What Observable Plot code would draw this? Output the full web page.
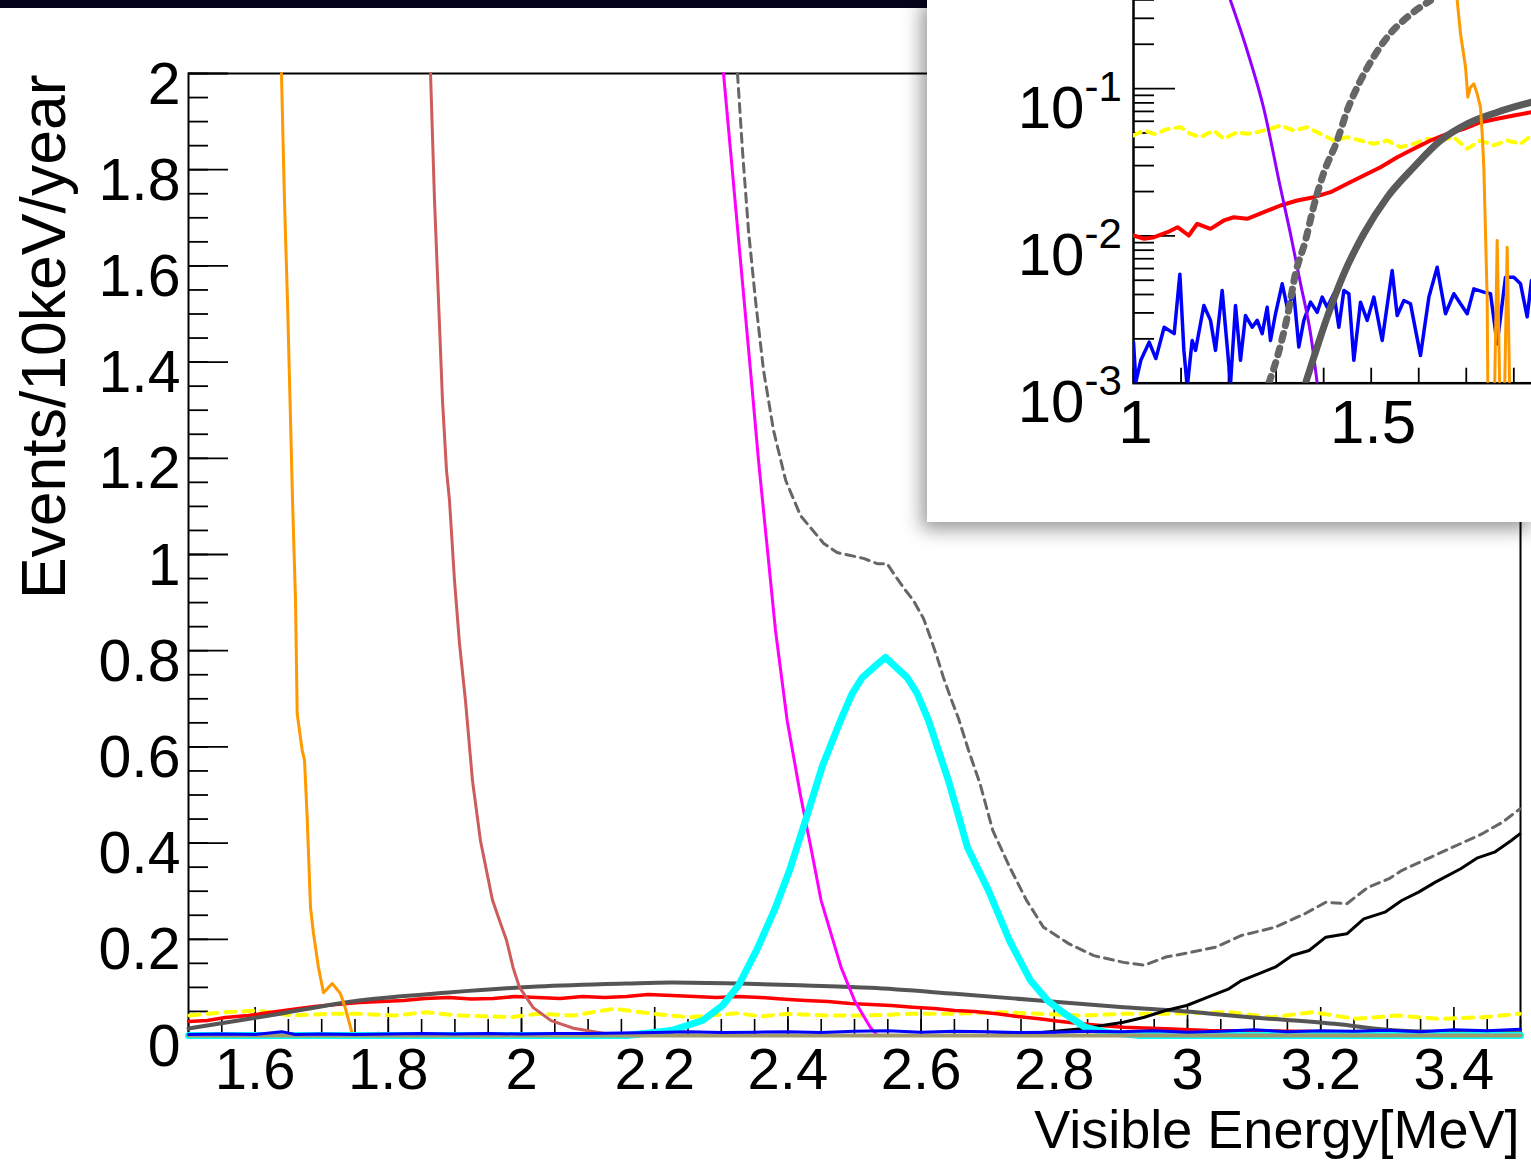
<!DOCTYPE html>
<html><head><meta charset="utf-8">
<script src="https://cdn.jsdelivr.net/npm/d3@7"></script>
<script src="https://cdn.jsdelivr.net/npm/@observablehq/plot@0.6"></script>
<style>
html,body{margin:0;padding:0;background:#fff;}
#wrap{position:relative;width:1531px;height:1175px;overflow:hidden;background:#fff;}
#main{position:absolute;left:0;top:0;}
#bar{position:absolute;left:0;top:0;width:1531px;height:8px;background:#04041c;}
#inset{position:absolute;left:927px;top:0;width:604px;height:522px;background:#fff;overflow:hidden;box-shadow:-3px 5px 18px 2px rgba(0,0,0,0.42);}
#insetPlot{position:absolute;left:0;top:-120px;}
</style></head>
<body><div id="wrap"><div id="main"></div><div id="bar"></div><div id="inset"><div id="insetPlot"></div></div></div>
<script>
// ---------------- main plot data (x in MeV, y in Events/10keV/year) ----------------
const xTickVals = [1.6, 1.8, 2.0, 2.2, 2.4, 2.6, 2.8, 3.0, 3.2, 3.4];
const xTickLabels = ["1.6", "1.8", "2", "2.2", "2.4", "2.6", "2.8", "3", "3.2", "3.4"];
const yTickVals = [0, 0.2, 0.4, 0.6, 0.8, 1.0, 1.2, 1.4, 1.6, 1.8, 2.0];
const yTickLabels = ["0", "0.2", "0.4", "0.6", "0.8", "1", "1.2", "1.4", "1.6", "1.8", "2"];

const orangeX = [1.6396, 1.6441, 1.6486, 1.6532, 1.6562, 1.6607, 1.6632, 1.6707, 1.6742, 1.6782, 1.6832, 1.6877, 1.6952, 1.7027, 1.7158, 1.7282, 1.7357, 1.7458, 1.755, 1.765, 1.775, 1.785, 1.795, 1.805, 1.815];
const orangeY = [2.0, 1.736, 1.528, 1.279, 1.112, 0.904, 0.669, 0.593, 0.572, 0.453, 0.266, 0.212, 0.141, 0.089, 0.108, 0.087, 0.056, 0.004, 0, 0.004, 0, 0.005, 0, 0.004, 0];

const indianX = [1.8634, 1.8694, 1.8754, 1.8814, 1.8874, 1.8919, 1.8994, 1.9069, 1.9159, 1.9264, 1.9384, 1.9565, 1.967, 1.9775, 1.9874, 1.997, 2.0176, 2.0443, 2.0781, 2.1246, 2.19];
const indianY = [2.0, 1.736, 1.528, 1.32, 1.175, 1.112, 0.946, 0.815, 0.696, 0.53, 0.405, 0.281, 0.239, 0.198, 0.141, 0.1, 0.058, 0.031, 0.015, 0.004, 0];

const magentaX = [2.3033, 2.3138, 2.3288, 2.3438, 2.3559, 2.3679, 2.3814, 2.3989, 2.4189, 2.4339, 2.4498, 2.48, 2.5, 2.5236, 2.5345];
const magentaY = [2.0, 1.84, 1.611, 1.383, 1.195, 1.029, 0.842, 0.655, 0.499, 0.395, 0.281, 0.141, 0.073, 0.017, 0];

const totalX = [2.3243, 2.3318, 2.3408, 2.3514, 2.3634, 2.3784, 2.3967, 2.4189, 2.4538, 2.474, 2.494, 2.5135, 2.534, 2.549, 2.5586, 2.5736, 2.5886, 2.6036, 2.6141, 2.6242, 2.6336, 2.6441, 2.6562, 2.6712, 2.6886, 2.7077, 2.733, 2.7583, 2.7837, 2.8216, 2.8595, 2.9039, 2.9354, 2.9671, 3.0051, 3.0431, 3.0811, 3.1317, 3.176, 3.2077, 3.2393, 3.271, 3.3027, 3.3216, 3.3659, 3.4102, 3.4419, 3.4736, 3.499];
const totalY = [2.0, 1.84, 1.674, 1.528, 1.383, 1.258, 1.154, 1.081, 1.023, 1.004, 0.998, 0.992, 0.981, 0.981, 0.961, 0.931, 0.904, 0.867, 0.827, 0.786, 0.744, 0.703, 0.659, 0.593, 0.523, 0.426, 0.35, 0.281, 0.225, 0.191, 0.166, 0.152, 0.146, 0.163, 0.173, 0.184, 0.208, 0.225, 0.253, 0.277, 0.274, 0.308, 0.326, 0.343, 0.371, 0.399, 0.419, 0.444, 0.471];

const signalX = [1.5, 2.1577, 2.2252, 2.2718, 2.3018, 2.3258, 2.3529, 2.3796, 2.4024, 2.4264, 2.452, 2.479, 2.4965, 2.5116, 2.5285, 2.5465, 2.5791, 2.5941, 2.6111, 2.6411, 2.6697, 2.7012, 2.7327, 2.7643, 2.7898, 2.8153, 2.8468, 2.8784, 2.93, 3.5];
const signalY = [0, 0, 0.0104, 0.0312, 0.0624, 0.104, 0.177, 0.26, 0.343, 0.447, 0.561, 0.655, 0.711, 0.744, 0.765, 0.786, 0.744, 0.711, 0.655, 0.53, 0.391, 0.3015, 0.1975, 0.1143, 0.0728, 0.0457, 0.0166, 0.0062, 0, 0];

const humpX = [1.5, 1.6216, 1.7562, 1.8904, 2.024, 2.1577, 2.2252, 2.3258, 2.4264, 2.524, 2.6506, 2.7772, 2.9039, 2.9988, 3.0937, 3.2204, 3.3153, 3.4102, 3.5];
const humpY = [0.0146, 0.0416, 0.0728, 0.0894, 0.1019, 0.1081, 0.1102, 0.1081, 0.104, 0.0992, 0.0867, 0.0728, 0.0588, 0.0499, 0.038, 0.0243, 0.0104, 0.0069, 0.0056];

const redX = [1.5, 1.528, 1.555, 1.59, 1.6216, 1.655, 1.6892, 1.722, 1.7562, 1.79, 1.8228, 1.855, 1.8904, 1.925, 1.9572, 1.99, 2.024, 2.058, 2.0916, 2.125, 2.1577, 2.19, 2.2252, 2.26, 2.2923, 2.325, 2.3589, 2.39, 2.4264, 2.46, 2.4934, 2.524, 2.555, 2.5874, 2.62, 2.6506, 2.68, 2.714, 2.745, 2.7772, 2.81, 2.8406, 2.87, 2.9039, 2.9671, 3.0305, 3.157, 3.32, 3.5];
const redY = [0.0291, 0.0312, 0.0374, 0.0416, 0.0478, 0.0541, 0.0603, 0.0644, 0.0686, 0.0707, 0.0728, 0.0769, 0.079, 0.0757, 0.0769, 0.0811, 0.079, 0.0769, 0.0811, 0.079, 0.0811, 0.0853, 0.0832, 0.0811, 0.079, 0.0811, 0.079, 0.0757, 0.0728, 0.0707, 0.0665, 0.0644, 0.0624, 0.0588, 0.0561, 0.052, 0.0499, 0.0451, 0.0395, 0.0347, 0.0291, 0.0243, 0.0208, 0.0173, 0.0139, 0.0104, 0.0089, 0.006, 0.006];

const yellowX = [1.5015, 1.555, 1.602, 1.6556, 1.7092, 1.7562, 1.8098, 1.8566, 1.9036, 1.9572, 1.9841, 2.0242, 2.0779, 2.1381, 2.1985, 2.2521, 2.3258, 2.3595, 2.3995, 2.4599, 2.5135, 2.5874, 2.6506, 2.714, 2.7772, 2.8406, 2.9039, 2.9671, 3.0622, 3.1254, 3.1887, 3.252, 3.3153, 3.3787, 3.4419, 3.499];
const yellowY = [0.0416, 0.0485, 0.052, 0.0416, 0.0451, 0.0451, 0.0416, 0.0485, 0.0416, 0.0395, 0.038, 0.0451, 0.0416, 0.0555, 0.0451, 0.038, 0.0464, 0.0395, 0.0451, 0.0416, 0.0416, 0.0451, 0.0451, 0.0485, 0.0451, 0.0416, 0.0451, 0.0451, 0.0485, 0.038, 0.0485, 0.0346, 0.0416, 0.0346, 0.038, 0.0451];

const blueX = [1.5, 1.55, 1.6, 1.64, 1.66, 1.7, 1.75, 1.8, 1.85, 1.9, 1.95, 2.0, 2.05, 2.1, 2.15, 2.2, 2.25, 2.3, 2.35, 2.4, 2.45, 2.5, 2.55, 2.6, 2.65, 2.7, 2.75, 2.8, 2.85, 2.9, 2.95, 3.0, 3.05, 3.1, 3.15, 3.2, 3.25, 3.3, 3.35, 3.4, 3.45, 3.5];
const blueY = [0.002, 0.003, 0.002, 0.008, 0.002, 0.003, 0.002, 0.003, 0.004, 0.003, 0.004, 0.003, 0.004, 0.004, 0.005, 0.006, 0.008, 0.006, 0.007, 0.008, 0.006, 0.009, 0.01, 0.007, 0.009, 0.008, 0.006, 0.007, 0.009, 0.008, 0.01, 0.007, 0.009, 0.012, 0.008, 0.01, 0.009, 0.011, 0.008, 0.012, 0.01, 0.013];

const blackX = [2.70, 2.7772, 2.8406, 2.8722, 2.9039, 2.9354, 2.9671, 2.9988, 3.0305, 3.0622, 3.0811, 3.1065, 3.1317, 3.157, 3.1825, 3.2077, 3.2393, 3.2647, 3.2964, 3.3216, 3.347, 3.3723, 3.4102, 3.4356, 3.461, 3.4862, 3.499];
const blackY = [0, 0.0056, 0.0139, 0.0208, 0.0277, 0.038, 0.052, 0.0624, 0.0797, 0.0971, 0.1143, 0.1283, 0.1421, 0.1663, 0.1767, 0.2044, 0.2114, 0.2426, 0.2564, 0.2807, 0.298, 0.3188, 0.3466, 0.3694, 0.3811, 0.4054, 0.4193];

const khakiX = [1.5, 3.5];
const khakiY = [0, 0];

// ---------------- inset data (log scale) ----------------
const insetYTickVals = [0.001, 0.01, 0.1];
const insetYTickBase = ["10", "10", "10"];
const insetYTickExp = ["-3", "-2", "-1"];
const insetXTickVals = [1, 1.5];
const insetXTickLabels = ["1", "1.5"];

const purpleX = [1.204, 1.239, 1.2735, 1.309, 1.330, 1.3513, 1.3723, 1.3864];
const purpleY = [0.396, 0.1815, 0.0744, 0.0213, 0.0104, 0.00475, 0.00218, 0.001];

const dotGrayX = [1.2846, 1.3023, 1.3233, 1.3408, 1.3618, 1.3786, 1.3997, 1.4285, 1.4495, 1.4775, 1.5048, 1.5337, 1.5757, 1.6247];
const dotGrayY = [0.001, 0.0015, 0.00281, 0.00556, 0.00931, 0.01566, 0.02652, 0.04443, 0.07099, 0.1135, 0.1633, 0.2234, 0.3052, 0.3964];

const solGrayX = [1.3618, 1.3793, 1.4074, 1.4424, 1.4844, 1.5337, 1.5896, 1.6458, 1.7019, 1.765, 1.8372];
const solGrayY = [0.001, 0.0015, 0.00281, 0.00553, 0.01033, 0.01831, 0.02928, 0.04443, 0.05768, 0.06914, 0.08082];

const iRedX = [1.0, 1.0225, 1.0435, 1.0715, 1.0926, 1.1163, 1.134, 1.162, 1.19, 1.211, 1.2392, 1.2741, 1.3092, 1.3443, 1.3793, 1.4144, 1.4495, 1.4844, 1.5196, 1.5547, 1.5896, 1.6247, 1.6599, 1.6948, 1.7299, 1.765, 1.8, 1.8372];
const iRedY = [0.01006, 0.00956, 0.0098, 0.01059, 0.01146, 0.01006, 0.01209, 0.01117, 0.01273, 0.01339, 0.01306, 0.01448, 0.01608, 0.01739, 0.01831, 0.0198, 0.02258, 0.0257, 0.02928, 0.03423, 0.03903, 0.04443, 0.04934, 0.05334, 0.05912, 0.06237, 0.06567, 0.06914];

const iYellowX = [1.0, 1.022, 1.045, 1.07, 1.0989, 1.1199, 1.1409, 1.169, 1.19, 1.2181, 1.2392, 1.2602, 1.2882, 1.3092, 1.3372, 1.3654, 1.3934, 1.4213, 1.4495, 1.4775, 1.5055, 1.5337, 1.5616, 1.5896, 1.6178, 1.6458, 1.6737, 1.7019, 1.7299, 1.7579, 1.7861, 1.814, 1.8372];
const iYellowY = [0.048, 0.052, 0.049, 0.053, 0.0547, 0.0493, 0.0468, 0.0519, 0.0456, 0.0506, 0.0493, 0.0506, 0.0533, 0.0562, 0.0519, 0.0547, 0.0493, 0.0444, 0.0468, 0.0444, 0.0422, 0.0444, 0.040, 0.0422, 0.0456, 0.0444, 0.0468, 0.039, 0.0444, 0.0411, 0.0444, 0.0422, 0.048];

const iBlueX = [1.0, 1.005, 1.0154, 1.033, 1.047, 1.0645, 1.0856, 1.0975, 1.106, 1.113, 1.1234, 1.1305, 1.148, 1.162, 1.1725, 1.1865, 1.2041, 1.2146, 1.2251, 1.2356, 1.2497, 1.2602, 1.2707, 1.2812, 1.2882, 1.2987, 1.3128, 1.3233, 1.3373, 1.3478, 1.3583, 1.3724, 1.3864, 1.3969, 1.4074, 1.4214, 1.432, 1.4425, 1.453, 1.4635, 1.4775, 1.4916, 1.5056, 1.5231, 1.5441, 1.5547, 1.5687, 1.5827, 1.6037, 1.6213, 1.6388, 1.6563, 1.6739, 1.7019, 1.7159, 1.737, 1.751, 1.765, 1.7825, 1.8001, 1.8141, 1.8281, 1.8372];
const iBlueY = [0.0019, 0.00102, 0.00143, 0.0019, 0.00147, 0.0024, 0.00217, 0.0055, 0.00167, 0.00094, 0.00195, 0.00167, 0.00337, 0.00267, 0.00167, 0.00426, 0.00099, 0.00337, 0.00143, 0.00288, 0.0024, 0.00267, 0.00217, 0.00328, 0.00195, 0.00296, 0.00473, 0.00328, 0.00405, 0.00176, 0.00267, 0.00355, 0.00303, 0.00384, 0.00328, 0.00405, 0.0024, 0.00426, 0.00405, 0.00143, 0.00355, 0.00267, 0.00384, 0.00195, 0.00582, 0.00288, 0.00364, 0.00346, 0.00154, 0.00384, 0.00613, 0.00296, 0.00405, 0.00296, 0.00437, 0.00415, 0.00405, 0.00185, 0.00524, 0.00524, 0.00473, 0.00282, 0.00498];

const iOrangeX = [1.6809, 1.6879, 1.6984, 1.7033, 1.7089, 1.7159, 1.7229, 1.7299, 1.7335, 1.7369, 1.7405, 1.744, 1.7475, 1.7545, 1.765, 1.7755, 1.786, 1.7966, 1.81];
const iOrangeY = [0.396, 0.2355, 0.1397, 0.0874, 0.1022, 0.1078, 0.0922, 0.0748, 0.0493, 0.0293, 0.01033, 0.00364, 0.0001, 0.0001, 0.0093, 0.0001, 0.00838, 0.0001, 0.0001];

// ---------------- helpers & styles ----------------
const FONT = "'Liberation Sans', Arial, Helvetica, sans-serif";
const pts = (xs, ys) => xs.map((x, i) => ({x, y: ys[i]}));
function line(xs, ys, stroke, strokeWidth, extra = {}) {
  return Plot.line(pts(xs, ys), {x: "x", y: "y", stroke, strokeWidth, strokeLinejoin: "round", ...extra});
}

// main geometry
const W = 1531, H = 1175, mL = 188, mR = 11, mT = 73, mB = 140;
const pxPerY = (H - mT - mB) / 2;   // px per y unit
const pxPerX = (W - mL - mR) / 2;   // px per x unit
const xMinor = d3.range(1.5, 3.5001, 0.05);
const yMinor = d3.range(0, 2.0001, 0.05);

const mainPlot = Plot.plot({
  width: W, height: H,
  marginLeft: mL, marginRight: mR, marginTop: mT, marginBottom: mB,
  x: {domain: [1.5, 3.5], axis: null},
  y: {domain: [0, 2], axis: null},
  style: {fontFamily: FONT, background: "transparent", maxWidth: "none", color: "#000"},
  marks: [
    Plot.frame({stroke: "#000", strokeWidth: 2}),
    // x ticks (inside, upward)
    Plot.ruleX(xMinor, {x: d => d, y1: 0, y2: 16 / pxPerY, stroke: "#000", strokeWidth: 1.6}),
    Plot.ruleX(xTickVals, {x: d => d, y1: 0, y2: 28 / pxPerY, stroke: "#000", strokeWidth: 1.6}),
    // y ticks (inside, rightward)
    Plot.ruleY(yMinor, {y: d => d, x1: 1.5, x2: 1.5 + 20 / pxPerX, stroke: "#000", strokeWidth: 1.8}),
    Plot.ruleY(yTickVals, {y: d => d, x1: 1.5, x2: 1.5 + 40 / pxPerX, stroke: "#000", strokeWidth: 1.8}),
    // tick labels
    Plot.text(xTickVals, {x: d => d, y: 0, text: (d, i) => xTickLabels[i], dy: 53, lineAnchor: "bottom", fontSize: 58, fill: "#000"}),
    Plot.text(yTickVals, {x: 1.5, y: d => d, text: (d, i) => yTickLabels[i], textAnchor: "end", dx: -8, dy: 30, lineAnchor: "bottom", fontSize: 59, fill: "#000"}),
    // axis titles
    Plot.text(["Events/10keV/year"], {text: d => d, frameAnchor: "top-left", rotate: -90, textAnchor: "end", lineAnchor: "bottom", dx: -124, dy: 1, fontSize: 62.5, fill: "#000"}),
    Plot.text(["Visible Energy[MeV]"], {text: d => d, frameAnchor: "bottom-right", textAnchor: "end", lineAnchor: "bottom", dx: -1, dy: 112, fontSize: 54, fill: "#000"}),
    // curves
    line(yellowX, yellowY, "#ffff00", 4, {strokeDasharray: "10,8"}),
    line(redX, redY, "#ff0000", 3.5),
    line(humpX, humpY, "#555555", 4, {curve: "monotone-x"}),
    line(blackX, blackY, "#000000", 3),
    line(orangeX, orangeY, "#ff9900", 3),
    line(indianX, indianY, "#cd5c5c", 3),
    line(magentaX, magentaY, "#ff00ff", 3),
    line(totalX, totalY, "#666666", 3, {strokeDasharray: "9,6"}),
    line(signalX, signalY, "#00ffff", 7),
    line(khakiX, khakiY, "#a39a6c", 4),
    line(blueX, blueY, "#0000ff", 3)
  ]
});
document.getElementById("main").appendChild(mainPlot);

// inset geometry
const iW = 700, iH = 642, iL = 206, iR = 18.6, iT = 60.8, iB = 139.3;
const iPxPerX = iW - iL - iR;           // px per x unit (domain width 1)
const iPxPerDecade = (iH - iT - iB) / 3; // px per decade
const iXTicks = d3.range(1, 2.0001, 0.1);
const iYMinor = [0.001, 0.01, 0.1].flatMap(b => d3.range(2, 10).map(k => k * b));

const insetPlot = Plot.plot({
  width: iW, height: iH,
  marginLeft: iL, marginRight: iR, marginTop: iT, marginBottom: iB,
  x: {domain: [1, 2], axis: null},
  y: {type: "log", domain: [0.001, 1], axis: null},
  style: {fontFamily: FONT, background: "#fff", maxWidth: "none", color: "#000"},
  marks: [
    Plot.frame({stroke: "#000", strokeWidth: 2.5}),
    Plot.ruleX(iXTicks, {x: d => d, y1: 0.001, y2: 0.001 * Math.pow(10, 15 / iPxPerDecade), stroke: "#000", strokeWidth: 1.8}),
    Plot.ruleY(iYMinor, {y: d => d, x1: 1, x2: 1 + 21 / iPxPerX, stroke: "#000", strokeWidth: 1.8}),
    Plot.ruleY([0.001, 0.01, 0.1, 1], {y: d => d, x1: 1, x2: 1 + 42 / iPxPerX, stroke: "#000", strokeWidth: 1.8}),
    Plot.text(insetYTickVals, {x: 1, y: d => d, text: (d, i) => insetYTickBase[i], textAnchor: "end", dx: -49, dy: 39, lineAnchor: "bottom", fontSize: 60, fill: "#000"}),
    Plot.text(insetYTickVals, {x: 1, y: d => d, text: (d, i) => insetYTickExp[i], textAnchor: "start", dx: -49, dy: 12, lineAnchor: "bottom", fontSize: 42, fill: "#000"}),
    Plot.text(insetXTickVals, {x: d => d, y: 0.001, text: (d, i) => insetXTickLabels[i], dy: 60, dx: 2, lineAnchor: "bottom", fontSize: 62, fill: "#000"}),
    line(iYellowX, iYellowY, "#ffff00", 4, {strokeDasharray: "8,7", clip: true}),
    line(iRedX, iRedY, "#ff0000", 4, {clip: true}),
    line(iBlueX, iBlueY, "#0000ff", 3.5, {clip: true}),
    line(purpleX, purpleY, "#9400ff", 3, {clip: true, curve: "monotone-x"}),
    line(dotGrayX, dotGrayY, "#666666", 7, {strokeDasharray: "7,8", clip: true, curve: "monotone-x"}),
    line(solGrayX, solGrayY, "#5a5a5a", 7, {clip: true, curve: "monotone-x"}),
    line(iOrangeX, iOrangeY, "#ff9900", 3, {clip: true})
  ]
});
document.getElementById("insetPlot").appendChild(insetPlot);
</script>
</body></html>
